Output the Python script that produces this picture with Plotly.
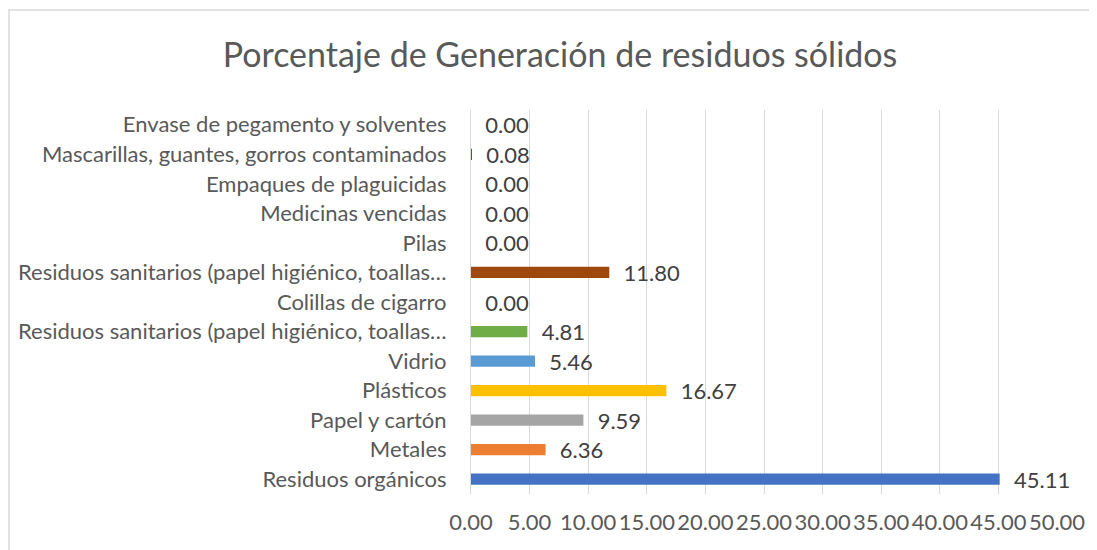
import plotly.graph_objects as go

categories = [
    "Residuos orgánicos",
    "Metales",
    "Papel y cartón",
    "Plásticos",
    "Vidrio",
    "Residuos sanitarios (papel higiénico, toallas…",
    "Colillas de cigarro",
    "Residuos sanitarios (papel higiénico, toallas…",
    "Pilas",
    "Medicinas vencidas",
    "Empaques de plaguicidas",
    "Mascarillas, guantes, gorros contaminados",
    "Envase de pegamento y solventes",
]
values = [45.11, 6.36, 9.59, 16.67, 5.46, 4.81, 0.00, 11.80, 0.00, 0.00, 0.00, 0.08, 0.00]
colors = ["#4472C4", "#ED7D31", "#A5A5A5", "#FFC000", "#5B9BD5", "#70AD47",
          "#264478", "#9E480E", "#636363", "#997300", "#255E91", "#43682B", "#698ED0"]
x_ticks = [0, 5, 10, 15, 20, 25, 30, 35, 40, 45, 50]

positions = list(range(len(categories)))
FONT = "Lato"

# page has an 8px body margin; margins below compensate for it
ML, MR, MT, MB = 463, 48, 102, 64
PW, PH = 1097 - ML - MR, 550 - MT - MB

fig = go.Figure()
fig.add_trace(go.Bar(
    x=values,
    y=positions,
    orientation="h",
    marker=dict(color=colors, line=dict(width=0)),
    width=0.38,
    texttemplate="\u00a0\u00a0%{x:.2f}",
    textposition="outside",
    constraintext="none",
    cliponaxis=False,
    textfont=dict(family=FONT, size=22, color="#404040"),
    showlegend=False,
    hoverinfo="skip",
))

fig.update_layout(
    width=1097,
    height=550,
    paper_bgcolor="white",
    plot_bgcolor="white",
    margin=dict(l=ML, r=MR, t=MT, b=MB, autoexpand=False),
    title=dict(
        text="Porcentaje de Generación de residuos sólidos",
        x=(560 - 8) / 1097,
        xref="container",
        y=1 - 47 / 550,
        yref="container",
        yanchor="middle",
        xanchor="center",
        font=dict(family=FONT, size=34, color="#595959"),
    ),
    xaxis=dict(
        range=[0, 50],
        tickvals=x_ticks,
        ticktext=[f"{t:.2f}" for t in x_ticks],
        showgrid=True,
        gridcolor="#D9D9D9",
        gridwidth=1,
        zeroline=False,
        showline=False,
        ticks="",
        ticklabelstandoff=13,
        tickfont=dict(family=FONT, size=22, color="#595959"),
        fixedrange=True,
        automargin=False,
    ),
    yaxis=dict(
        range=[-0.5, len(categories) - 0.5],
        tickvals=positions,
        ticktext=categories,
        showgrid=False,
        zeroline=False,
        showline=True,
        linecolor="#D9D9D9",
        linewidth=1,
        ticks="",
        ticklabelstandoff=19,
        tickfont=dict(family=FONT, size=22, color="#595959"),
        fixedrange=True,
        automargin=False,
    ),
    font=dict(family=FONT),
    shapes=[dict(
        type="rect", xref="paper", yref="paper",
        x0=(1 - ML) / PW, x1=(1110 - ML) / PW,
        y0=-0.3, y1=(MT + PH - 2) / PH,
        line=dict(color="#D9D9D9", width=1.5),
        fillcolor="rgba(0,0,0,0)",
        layer="below",
    )],
)

fig.write_html("out.html")
